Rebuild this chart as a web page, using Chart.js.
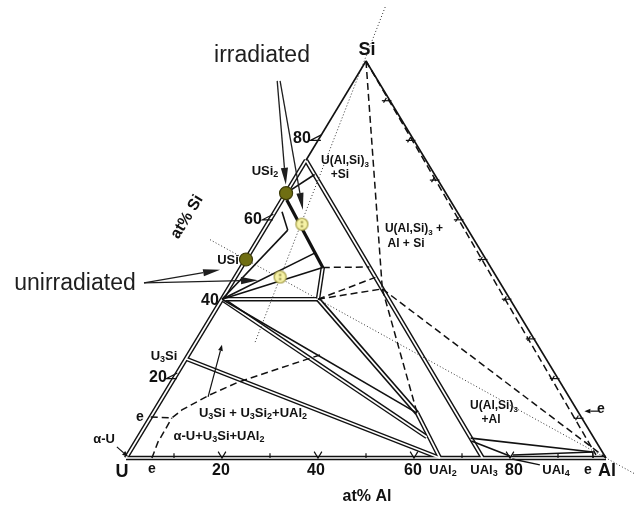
<!DOCTYPE html>
<html>
<head>
<meta charset="utf-8">
<script src="https://cdn.jsdelivr.net/npm/chart.js@4.4.1/dist/chart.umd.min.js"></script>
<style>
html, body { margin: 0; padding: 0; background: #fff; }
#wrap { width: 636px; height: 509px; }
</style>
</head>
<body>
<div id="wrap"><canvas id="phaseChart" width="636" height="509"></canvas></div>
<script>
// compositions are [at% Al, at% Si], the rest is U

// phase boundaries drawn as double lines
const doubleLines = [
    [[0, 0], [100, 0]],
    [[0, 0], [0, 75]],
    [[0, 75], [74.3, 0]],
    [[0, 25], [65.4, 0]],
    [[0, 40], [20, 40]],
    [[17, 48], [20, 40]],
    [[20, 40], [55, 11.3]],
    [[0, 40], [60, 5.3]],
    [[55, 11.3], [65.4, 0]]
];

// single tie lines
const singleLines = [
    [[0, 75], [0, 100]],
    [[0, 100], [100, 0]],
    [[0, 40], [55, 11.3]],
    [[0, 40], [17, 48]],
    [[0, 40], [13.5, 51.6]],
    [[0, 40], [5, 57.4]],
    [[1.5, 62], [5, 57.4]],
    [[0, 66.7], [3.6, 71.4]],
    [[69.8, 4.3], [79.7, 0.5]],
    [[69.3, 5], [96.5, 1.5]],
    [[80.2, 0.75], [96.5, 1.5]],
    [[96.5, 1.5], [97.3, 0]]
];

const heavyLines = [
    [[1, 65], [17, 48]]
];

const dashedLines = [
    [[0, 100], [97.5, 0.8]],
    [[0, 100], [32.1, 42.6]],
    [[32.1, 42.6], [55, 11.3]],
    [[32.1, 42.6], [100, 0]],
    [[17, 48], [26.65, 48.1]],
    [[20, 40], [29.2, 45.5]],
    [[20, 40], [32.1, 42.6]],
    [[0, 10.3], [4.5, 10.1], [5.6, 12.1], [9.5, 15.9], [13.8, 19.1], [27.9, 26.2]],
    [[5.4, 0], [4.65, 4], [4.6, 7.05], [4.5, 10.1]]
];

const dottedLines = [
    [[12.3, 29.2], [-2.8, 113.6]],
    [[-10, 55], [108, -4]]
];

// measured samples
const darkPoints = [[0, 66.7], [0, 50]];
const lightPoints = [[7.2, 58.9], [9.3, 45.6]];

// edge ticks (at%)
const bottomTicks = [10, 20, 30, 40, 50, 60, 70, 80, 90];
const leftTicks = [20, 60, 80];
const rightTicks = [10, 20, 30, 40, 50, 60, 70, 80, 90];

// annotation arrows, from -> to
const irradiatedArrows = [[[-16, 95], [-1.1, 68.8]], [[-15.4, 95], [5.6, 62.5]]];
const unirradiatedArrows = [[[-18.3, 44.1], [-4.1, 47.4]], [[-18.3, 44.1], [5.1, 44.8]]];
const smallArrows = [[[9.4, 15.4], [5.75, 28.5]], [[-3.3, 2.8], [0.3, 0.3]], [[92.5, 11.8], [89.6, 11.8]]];
const leaderLines = [[[80.6, -0.25], [87.1, -1.76]]];

const ink = '#111111';
const labelFont = '"Liberation Sans", Arial, sans-serif';

function tern(p) {
    return { x: p[0] + p[1] / 2, y: p[1] };
}

function lineSet(pts, color, width, dash, order) {
    return {
        data: pts.map(tern),
        showLine: true,
        borderColor: color,
        borderWidth: width,
        borderDash: dash || [],
        pointRadius: 0,
        pointHoverRadius: 0,
        fill: false,
        tension: 0,
        order: order,
        clip: false
    };
}

const tickLines = [];
bottomTicks.forEach(function(k) {
    if (k % 20 === 0) {
        tickLines.push([[k - 1.6, 1.6], [k, 0], [k, 1.6]]);
    } else {
        tickLines.push([[k, 0], [k - 0.6, 1.2]]);
    }
});
leftTicks.forEach(function(k) {
    tickLines.push([[0, k + 1.4], [-1.6, k], [0.6, k]]);
});
rightTicks.forEach(function(k) {
    tickLines.push([[100 - k - 1.7, k], [100 - k + 0.3, k]]);
    tickLines.push([[100 - k - 1.1, k + 0.7], [100 - k - 1.1, k - 0.5]]);
});

const datasets = [];
doubleLines.forEach(function(l) {
    const w = (l[0][0] === 20 && l[1][0] === 55) ? 5 : 4.5;
    datasets.push(lineSet(l, ink, w, null, 4));
    datasets.push(lineSet(l, '#ffffff', 1.7, null, 3));
});
singleLines.forEach(function(l) { datasets.push(lineSet(l, ink, 1.6, null, 2)); });
heavyLines.forEach(function(l) { datasets.push(lineSet(l, ink, 3.2, null, 2)); });
dashedLines.forEach(function(l) { datasets.push(lineSet(l, ink, 1.5, [7, 4], 2)); });
dottedLines.forEach(function(l) { datasets.push(lineSet(l, '#333', 1, [1, 2.2], 2)); });
tickLines.forEach(function(l) { datasets.push(lineSet(l, ink, 1.2, null, 2)); });
leaderLines.forEach(function(l) { datasets.push(lineSet(l, ink, 1.3, null, 2)); });

// yellow marker with the two small dots inside
const lightMarker = document.createElement('canvas');
lightMarker.width = 15;
lightMarker.height = 15;
(function() {
    const c = lightMarker.getContext('2d');
    c.beginPath();
    c.arc(7.5, 7.5, 6, 0, Math.PI * 2);
    c.fillStyle = '#f6f2a6';
    c.fill();
    c.lineWidth = 1.2;
    c.strokeStyle = '#a39c45';
    c.stroke();
    c.fillStyle = '#8a8440';
    c.fillRect(6.5, 4.5, 2, 2);
    c.fillRect(6.5, 8.5, 2, 2);
})();

datasets.push({
    data: darkPoints.map(tern),
    showLine: false,
    pointRadius: 6.5,
    pointBackgroundColor: '#6f6e12',
    pointBorderColor: '#3d3c08',
    pointBorderWidth: 1.2,
    order: 0,
    clip: false
});
datasets.push({
    data: lightPoints.map(tern),
    showLine: false,
    pointStyle: lightMarker,
    pointRadius: 7,
    order: 0,
    clip: false
});

const labels = [
    // text, x, y, size, weight, colour
    ['Si', 367, 50, 18, 'bold'],
    ['irradiated', 262, 56, 23, 'normal', '#1e1e1e'],
    ['unirradiated', 75, 284, 23, 'normal', '#1e1e1e'],
    ['80', 302, 139, 16, 'bold'],
    ['60', 253, 220, 16, 'bold'],
    ['40', 210, 301, 16, 'bold'],
    ['20', 158, 378, 16, 'bold'],
    ['U_3Si', 164, 356, 13, 'bold'],
    ['e', 140, 417, 14, 'bold'],
    ['\u03b1-U', 104, 439, 13, 'bold'],
    ['USi_2', 265, 171, 13, 'bold'],
    ['USi', 228, 260, 13, 'bold'],
    ['U(Al,Si)_3', 345, 161, 12, 'bold'],
    ['+Si', 340, 175, 12, 'bold'],
    ['U(Al,Si)_3 +', 414, 229, 12, 'bold'],
    ['Al + Si', 406, 244, 12, 'bold'],
    ['U_3Si + U_3Si_2+UAl_2', 253, 413, 13, 'bold'],
    ['\u03b1-U+U_3Si+UAl_2', 219, 436, 13, 'bold'],
    ['U(Al,Si)_3', 494, 406, 12, 'bold'],
    ['+Al', 491, 420, 12, 'bold'],
    ['e', 601, 409, 14, 'bold'],
    ['U', 122, 472, 18, 'bold'],
    ['e', 152, 469, 14, 'bold'],
    ['20', 221, 471, 16, 'bold'],
    ['40', 316, 471, 16, 'bold'],
    ['60', 413, 471, 16, 'bold'],
    ['UAl_2', 443, 470, 13, 'bold'],
    ['UAl_3', 484, 470, 13, 'bold'],
    ['80', 514, 471, 16, 'bold'],
    ['UAl_4', 556, 470, 13, 'bold'],
    ['e', 588, 470, 14, 'bold'],
    ['Al', 607, 471, 18, 'bold'],
    ['at% Al', 367, 497, 16, 'bold']
];

function richParts(str) {
    const parts = [];
    for (let i = 0; i < str.length; i++) {
        if (str[i] === '_') {
            parts.push({ t: str[i + 1], sub: true });
            i++;
        } else {
            parts.push({ t: str[i], sub: false });
        }
    }
    return parts;
}

function drawRich(ctx, str, x, y, size, weight, color) {
    const parts = richParts(str);
    const subSize = Math.round(size * 0.68);
    let total = 0;
    parts.forEach(function(p) {
        ctx.font = weight + ' ' + (p.sub ? subSize : size) + 'px ' + labelFont;
        p.w = ctx.measureText(p.t).width;
        total += p.w;
    });
    let cx = x - total / 2;
    ctx.fillStyle = color || ink;
    ctx.textAlign = 'left';
    ctx.textBaseline = 'middle';
    parts.forEach(function(p) {
        ctx.font = weight + ' ' + (p.sub ? subSize : size) + 'px ' + labelFont;
        ctx.fillText(p.t, cx, p.sub ? y + size * 0.3 : y);
        cx += p.w;
    });
}

function drawArrow(ctx, x0, y0, x1, y1, len, half) {
    const a = Math.atan2(y1 - y0, x1 - x0);
    const bx = x1 - Math.cos(a) * len;
    const by = y1 - Math.sin(a) * len;
    ctx.beginPath();
    ctx.moveTo(x0, y0);
    ctx.lineTo(bx, by);
    ctx.stroke();
    ctx.beginPath();
    ctx.moveTo(x1, y1);
    ctx.lineTo(bx + Math.sin(a) * half, by - Math.cos(a) * half);
    ctx.lineTo(bx - Math.sin(a) * half, by + Math.cos(a) * half);
    ctx.closePath();
    ctx.fill();
}

const annotationPlugin = {
    id: 'annotations',
    afterDatasetsDraw: function(chart) {
        const ctx = chart.ctx;
        const xs = chart.scales.x;
        const ys = chart.scales.y;
        function px(p) {
            const q = tern(p);
            return [xs.getPixelForValue(q.x), ys.getPixelForValue(q.y)];
        }
        ctx.save();
        ctx.strokeStyle = '#1e1e1e';
        ctx.fillStyle = '#1e1e1e';
        ctx.lineWidth = 1.3;
        irradiatedArrows.concat(unirradiatedArrows).forEach(function(ar) {
            const a = px(ar[0]);
            const b = px(ar[1]);
            drawArrow(ctx, a[0], a[1], b[0], b[1], 17, 3.6);
        });
        ctx.strokeStyle = ink;
        ctx.fillStyle = ink;
        ctx.lineWidth = 1.2;
        smallArrows.forEach(function(ar) {
            const a = px(ar[0]);
            const b = px(ar[1]);
            drawArrow(ctx, a[0], a[1], b[0], b[1], 6, 2.4);
        });
        labels.forEach(function(l) {
            drawRich(ctx, l[0], l[1], l[2], l[3], l[4], l[5]);
        });
        ctx.translate(187, 217);
        ctx.rotate(-58.7 * Math.PI / 180);
        drawRich(ctx, 'at% Si', 0, 0, 16, 'bold');
        ctx.restore();
    }
};

const ctxMain = document.getElementById('phaseChart').getContext('2d');
const phaseChart = new Chart(ctxMain, {
    type: 'scatter',
    data: { datasets: datasets },
    options: {
        responsive: false,
        animation: false,
        events: [],
        layout: {
            padding: { left: 126, right: 30, top: 61, bottom: 51 }
        },
        plugins: {
            legend: { display: false },
            tooltip: { enabled: false }
        },
        scales: {
            x: { type: 'linear', min: 0, max: 100, display: false },
            y: { type: 'linear', min: 0, max: 100, display: false }
        }
    },
    plugins: [annotationPlugin]
});
</script>
</body>
</html>
